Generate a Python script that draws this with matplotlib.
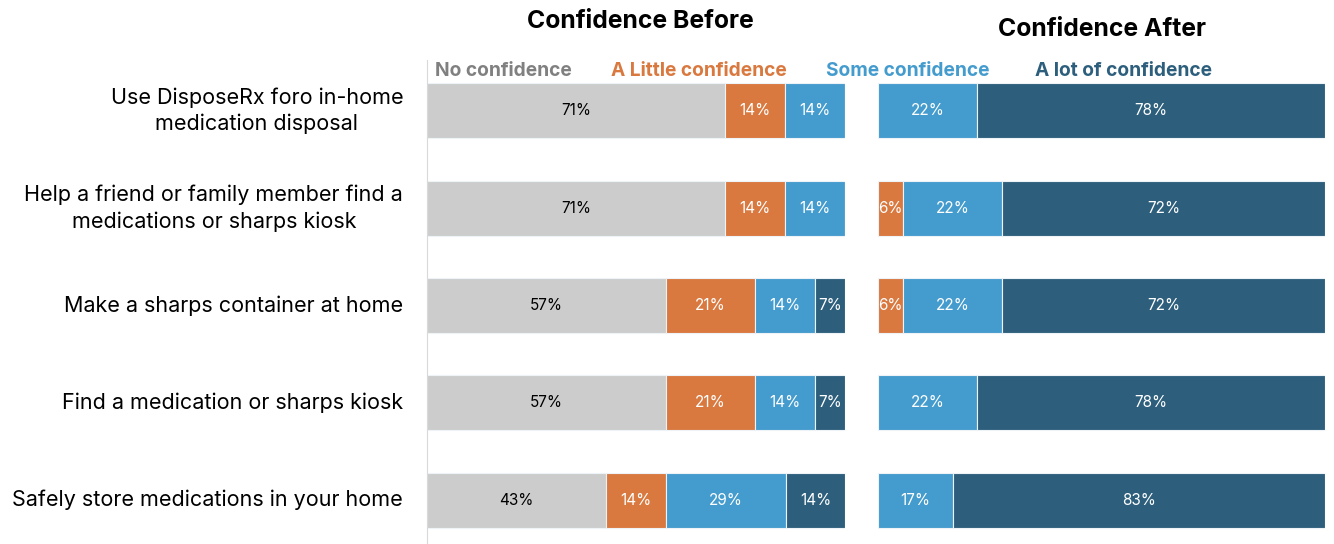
import numpy as np
import matplotlib
matplotlib.use("Agg")
import matplotlib.pyplot as plt

plt.rcParams['font.family'] = ['Inter', 'DejaVu Sans']

# data
items = ['Use DisposeRx foro in-home\nmedication disposal',
         'Help a friend or family member find a\nmedications or sharps kiosk',
         'Make a sharps container at home',
         'Find a medication or sharps kiosk',
         'Safely store medications in your home']
levels = ['No confidence', 'A Little confidence', 'Some confidence', 'A lot of confidence']
colors = ['#cccccc', '#d9793f', '#449bcd', '#2d5f7d']
text_colors = ['#808080', '#d9793f', '#449bcd', '#2d5f7d']

before_none = [71.4, 71.4, 57.1, 57.1, 42.9]
before_little = [14.3, 14.3, 21.4, 21.4, 14.3]
before_some = [14.3, 14.3, 14.3, 14.3, 28.6]
before_lot = [0, 0, 7.1, 7.1, 14.3]

after_none = [0, 0, 0, 0, 0]
after_little = [0, 5.6, 5.6, 0, 0]
after_some = [22.2, 22.2, 22.2, 22.2, 16.7]
after_lot = [77.8, 72.2, 72.2, 77.8, 83.3]

before = [before_none, before_little, before_some, before_lot]
after = [after_none, after_little, after_some, after_lot]

W, H = 1334, 544
fig = plt.figure(figsize=(W / 100, H / 100), dpi=100)
ax1 = fig.add_axes([427 / W, 0, 418 / W, 1 - 60 / H])
ax2 = fig.add_axes([878 / W, 0, 447 / W, 1 - 60 / H])

y = np.arange(len(items))


def stack(ax, series):
    left = np.zeros(len(items))
    for i, vals in enumerate(series):
        vals = np.array(vals)
        ax.barh(y, vals, left=left, height=0.565, color=colors[i],
                edgecolor='#eef3f7', linewidth=0.8)
        for yy, l, v in zip(y, left, vals):
            if v > 0:
                ax.text(l + v / 2, yy, '{}%'.format(int(round(v))), ha='center', va='center',
                        fontsize=11, color='black' if i == 0 else 'white')
        left += vals
    ax.set_xlim(0, 100)
    ax.set_ylim(4.452, -0.524)
    ax.set_xticks([])
    ax.set_yticks([])
    for s in ax.spines.values():
        s.set_visible(False)


stack(ax1, before)
stack(ax2, after)
ax1.spines['left'].set_visible(True)
ax1.spines['left'].set_color('#d9d9d9')

for yy, lab in zip(y, items):
    ax1.text(-0.057, yy, lab, transform=ax1.get_yaxis_transform(), ha='right', va='center',
             multialignment='center', fontsize=15.5, linespacing=1.35)

fig.text(640 / W, 1 - 21 / H, 'Confidence Before', ha='center', va='center', fontsize=17.8, fontweight='bold')
fig.text(1102 / W, 1 - 29 / H, 'Confidence After', ha='center', va='center', fontsize=17.8, fontweight='bold')

legend_x = [435, 611, 826, 1035]
for x, lab, c in zip(legend_x, levels, text_colors):
    fig.text(x / W, 1 - 71 / H, lab, ha='left', va='center', fontsize=13.8, fontweight='bold', color=c)

fig.savefig('out.png', dpi=100)
